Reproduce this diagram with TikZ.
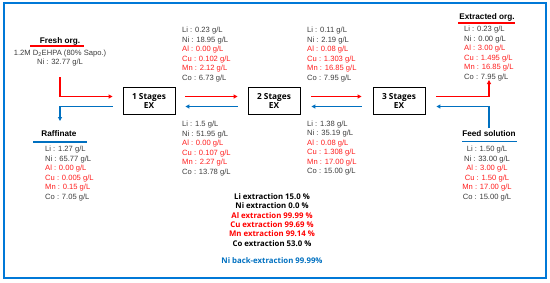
\documentclass[tikz,border=0pt]{standalone}
\usepackage{fontspec}
\setmainfont{Liberation Sans}
\newfontfamily\gothic{Open Sans}
\usetikzlibrary{arrows.meta}
\definecolor{myred}{RGB}{255,0,0}
\definecolor{txtred}{RGB}{255,30,30}
\definecolor{myblue}{RGB}{0,112,192}
\definecolor{frameblue}{RGB}{0,120,215}
\definecolor{txtgray}{RGB}{60,60,60}
\newcommand\mydata[6]{Li : #1\\Ni : #2\\\textcolor{txtred}{Al : #3}\\\textcolor{txtred}{Cu : #4}\\\textcolor{txtred}{Mn : #5}\\Co : #6}
\tikzset{
  stagebox/.style={draw=black, line width=0.9pt, minimum width=52pt, minimum height=27pt, inner sep=0pt, align=center, font=\gothic\bfseries\fontsize{8.3}{9.2}\selectfont},
  datablk/.style={inner sep=0pt, text=txtgray, font=\fontsize{7.6}{9.5}\selectfont},
  title/.style={inner sep=0pt, font=\bfseries\fontsize{8.2}{9}\selectfont},
  redarr/.style={draw=myred, line width=1.5pt, -{Triangle[length=4pt,width=4pt]}},
  bluearr/.style={draw=myblue, line width=1.5pt, -{Triangle[length=4pt,width=4pt]}},
  redline/.style={draw=myred, line width=1.4pt},
  blueline/.style={draw=myblue, line width=1.4pt},
  summ/.style={inner sep=0pt, font=\gothic\bfseries\fontsize{7.8}{9.3}\selectfont}
}
\begin{document}
\begin{tikzpicture}[x=1pt,y=-1pt]
\useasboundingbox (0,0) rectangle (550,282);
\draw[frameblue, line width=1.8pt] (4,3) rectangle (546,278);

% stage boxes
\node[stagebox] (s1) at (149,101) {1 Stages\\EX};
\node[stagebox] (s2) at (274,101) {2 Stages\\EX};
\node[stagebox] (s3) at (399,101) {3 Stages\\EX};

% arrows between stages
\draw[redarr] ([xshift=10pt,yshift=4.5pt]s1.east) -- ([xshift=-10pt,yshift=4.5pt]s2.west);
\draw[bluearr] ([xshift=-10pt,yshift=-5.5pt]s2.west) -- ([xshift=10pt,yshift=-5.5pt]s1.east);
\draw[redarr] ([xshift=11pt,yshift=4.5pt]s2.east) -- ([xshift=-11pt,yshift=4.5pt]s3.west);
\draw[bluearr] ([xshift=-11pt,yshift=-5.5pt]s3.west) -- ([xshift=11pt,yshift=-5.5pt]s2.east);

% left side
\node[title] (fresh) at (60,41) {Fresh org.};
\draw[redline] (30,46) -- (84,46);
\node[inner sep=0pt, text=txtgray, align=center, font=\fontsize{7.6}{9}\selectfont] (freshtxt) at (60,58.5) {1.2M D\textsubscript{2}EHPA (80\% Sapo.)\\Ni : 32.77 g/L};
\coordinate (fstart) at (60,77);
\draw[redarr] (fstart) |- ([xshift=-10pt,yshift=4.5pt]s1.west);
\coordinate (raffend) at (60,121);
\draw[bluearr] ([xshift=-10pt,yshift=-5.5pt]s1.west) -| (raffend);
\node[title] (raff) at (59,134) {Raffinate};
\draw[blueline] (33,142) -- (87,142);
\node[datablk, align=left, anchor=north west] (raffdata) at (45,146.2) {\mydata{1.27 g/L}{65.77 g/L}{0.00 g/L}{0.005 g/L}{0.15 g/L}{7.05 g/L}};

% right side
\node[title] (extr) at (487,17) {Extracted org.};
\draw[redline] (458,23) -- (515,23);
\node[datablk, align=left, anchor=north west] (extrdata) at (464,26.2) {\mydata{0.23 g/L}{0.00 g/L}{3.00 g/L}{1.495 g/L}{16.85 g/L}{7.95 g/L}};
\coordinate (extrend) at (489,80);
\draw[redarr] ([xshift=11pt,yshift=4.5pt]s3.east) -| (extrend);
\coordinate (feedstart) at (489,128);
\draw[bluearr] (feedstart) |- ([xshift=11pt,yshift=-5.5pt]s3.east);
\node[title] (feed) at (489,134) {Feed solution};
\draw[blueline] (462,141.5) -- (517,141.5);
\node[datablk, align=center, anchor=north] (feeddata) at (487,146.2) {\mydata{1.50 g/L}{33.00 g/L}{3.00 g/L}{1.50 g/L}{17.00 g/L}{15.00 g/L}};

% stage data
\node[datablk, align=left, anchor=north west] (d1) at (182,27.2) {\mydata{0.23 g/L}{18.95 g/L}{0.00 g/L}{0.102 g/L}{2.12 g/L}{6.73 g/L}};
\node[datablk, align=left, anchor=north west] (d2) at (307,27.2) {\mydata{0.11 g/L}{2.19 g/L}{0.08 g/L}{1.303 g/L}{16.85 g/L}{7.95 g/L}};
\node[datablk, align=left, anchor=north west] (d3) at (182,121.2) {\mydata{1.5 g/L}{51.95 g/L}{0.00 g/L}{0.107 g/L}{2.27 g/L}{13.78 g/L}};
\node[datablk, align=left, anchor=north west] (d4) at (307,120.7) {\mydata{1.38 g/L}{35.19 g/L}{0.08 g/L}{1.308 g/L}{17.00 g/L}{15.00 g/L}};

% summary
\node[summ, align=center, anchor=north] (summary) at (272,193.5) {Li extraction 15.0 \%\\Ni extraction 0.0 \%\\\textcolor{myred}{Al extraction 99.99 \%}\\\textcolor{myred}{Cu extraction 99.69 \%}\\\textcolor{myred}{Mn extraction 99.14 \%}\\Co extraction 53.0 \%};
\node[summ, text=myblue] (back) at (272,261) {Ni back-extraction 99.99\%};
\end{tikzpicture}
\end{document}
